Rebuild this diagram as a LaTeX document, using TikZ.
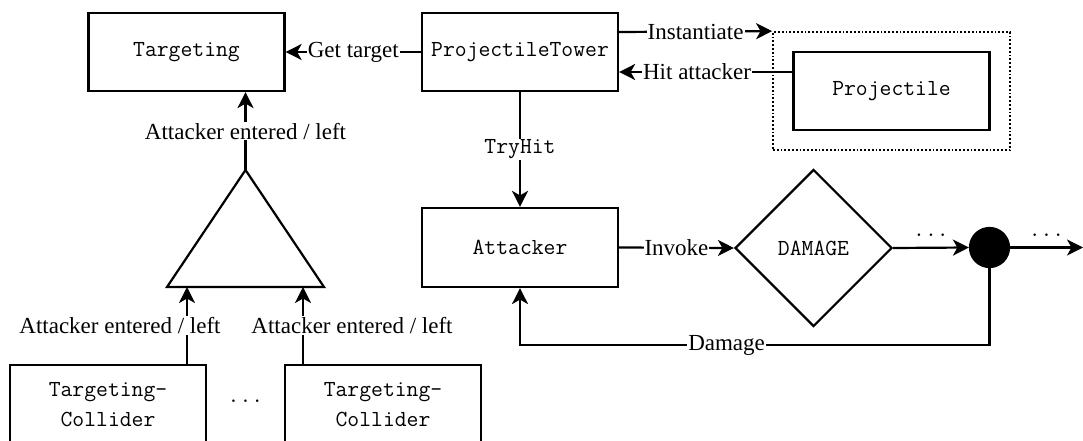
\documentclass[tikz,border=0pt]{standalone}
\usepackage{fontspec}
\setmainfont{Liberation Serif}
\usetikzlibrary{arrows.meta,shapes.geometric}
\begin{document}
\begin{tikzpicture}[x=1pt,y=-1pt,
  line width=2.2pt,
  font=\fontsize{23}{30}\selectfont,
  box/.style={draw,rectangle,minimum width=196pt,minimum height=78pt,inner sep=0pt,font=\fontsize{23}{30}\selectfont\ttfamily,align=center},
  arr/.style={-{Stealth[length=16pt,width=16pt,inset=4.5pt]}},
  lbl/.style={fill=white,inner sep=1pt},
  dotsl/.style={above,inner sep=2pt,yshift=8pt,font=\fontsize{23}{30}\selectfont\ttfamily}]
\useasboundingbox (0,0) rectangle (1083,441);
\node[box] (tg) at (186.5,52) {Targeting};
\node[box] (pt) at (520,52) {ProjectileTower};
\node[draw,dotted,line width=1.8pt,minimum width=237pt,minimum height=118pt] (grp) at (891.5,91) {};
\node[box] (pr) at (891.5,91) {Projectile};
\node[box,minimum height=79pt] (at) at (520,247.5) {Attacker};
\node[draw,diamond,minimum width=157pt,minimum height=157pt,inner sep=0pt,font=\fontsize{23}{30}\selectfont\ttfamily] (dm) at (813.5,248) {DAMAGE};
\node[draw,circle,fill=black,minimum size=39pt,inner sep=0pt] (ci) at (989.5,247.5) {};
\coordinate (out) at (1083,247.5);
\node[box,minimum height=80pt] (c1) at (108,405) {Targeting-\\Collider};
\node[box,minimum height=80pt] (c2) at (383,405) {Targeting-\\Collider};
\node[font=\fontsize{23}{30}\selectfont\ttfamily] (cd) at (245.5,401) {...};
% triangle
\coordinate (ta) at (245.5,170);
\coordinate (tl) at (167,287);
\coordinate (tr) at (324,287);
\draw[line join=miter] (ta) -- (tl) -- (tr) -- cycle;
% connectors
\draw[arr] (pt.west) -- node[lbl] {Get target} (tg.east);
\draw[arr] (ta) -- node[lbl] {Attacker entered / left} (tg.south -| ta);
\draw[arr] (c1.north -| 187,0) -- node[lbl,xshift=-67pt] {Attacker entered / left} (187,287);
\draw[arr] (c2.north -| 303,0) -- node[lbl,xshift=49pt] {Attacker entered / left} (303,287);
\draw[arr] (pt.east |- 0,32) -- node[lbl] {Instantiate} (grp.north west);
\draw[arr] (pr.west |- 0,72) -- node[lbl,pos=0.55] {Hit attacker} (pt.east |- 0,72);
\draw[arr] (pt.south) -- node[lbl,font=\fontsize{23}{30}\selectfont\ttfamily] {TryHit} (at.north);
\draw[arr] (at.east) -- node[lbl] {Invoke} (dm.west);
\draw[arr] (dm.east) -- node[dotsl] {...} (ci.west);
\draw[arr] (ci.east) -- node[dotsl] {...} (out);
\draw[arr] (ci.south) |- node[lbl,pos=0.78] {Damage} (at.south |- 0,345) -- (at.south);
\end{tikzpicture}
\end{document}
